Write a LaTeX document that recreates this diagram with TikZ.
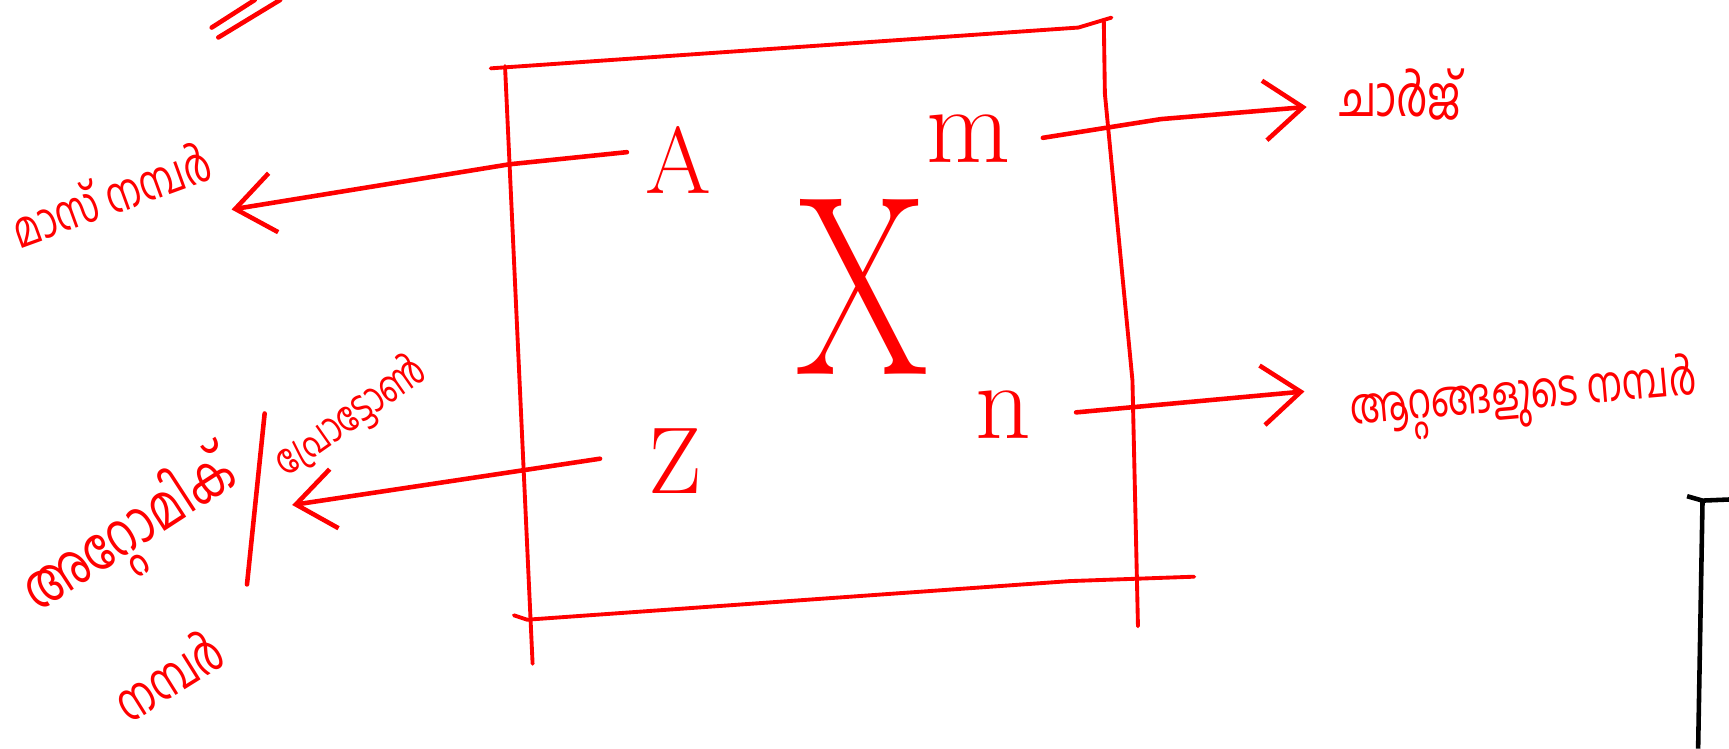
\documentclass[tikz,border=0pt]{standalone}
\usepackage{fontspec}
\usetikzlibrary{arrows.meta}
\newfontfamily\mlfont[Script=Malayalam, FakeStretch=0.75]{Hind Kochi}

\begin{document}
\begin{tikzpicture}[
    x=0.011027cm,
    y=-0.011027cm,
    frame/.style={
        draw=red,
        line width=1.1pt,
        line cap=round,
        line join=round
    },
    arrow/.style={
        red,
        line width=1.3pt,
        line cap=round,
        line join=round,
        -{Straight Barb[length=11pt,width=17pt,line width=1.3pt]}
    },
    letter/.style={
        text=red,
        inner sep=0pt,
        font=\fontsize{27}{30}\selectfont
    },
    small letter/.style={
        text=red,
        inner sep=0pt,
        font=\fontsize{31}{34}\selectfont
    },
    mltext/.style={
        text=red,
        inner sep=0pt,
        font=\mlfont\fontsize{15}{18}\selectfont
    }
]

\useasboundingbox (0,0) rectangle (1568,679);

% Box
\draw [frame] (445,62) -- (978,25) -- (1008,16);
\draw [frame] (458,60) -- (483,602);
\draw [frame] (1001,18) -- (1002,85) -- (1027,345) -- (1032,568);
\draw [frame] (466,558) -- (478,562) -- (970,527) -- (1083,523);

% Nodes
\node [letter] (A) at (615,145) {A};
\node [letter] (Z) at (612,418) {Z};
\node [small letter] (m) at (878,126) {m};
\node [small letter] (n) at (910,376) {n};
\node [text=red, inner sep=0pt, xscale=0.75, font=\fontsize{73}{75}\selectfont] (X) at (782,260) {X};

% Labels
\node [mltext, rotate=20, font=\mlfont\fontsize{14}{16}\selectfont] (mass) at (100,176) {മാസ് നമ്പർ};
\node [mltext, rotate=33, font=\mlfont\fontsize{17}{18}\selectfont] (atomic) at (120,486) {അറ്റോമിക്};
\node [mltext, rotate=35, font=\mlfont\fontsize{12}{14}\selectfont] (proton) at (318,378) {പ്രോട്ടോൺ};
\node [mltext, rotate=32] (number) at (152,612) {നമ്പർ};
\node [mltext, font=\mlfont\fontsize{16}{18}\selectfont] (charge) at (1270,86) {ചാർജ്};
\node [mltext, rotate=5, font=\mlfont\fontsize{14}{16}\selectfont] (atoms) at (1382,362) {ആറ്റങ്ങളുടെ നമ്പർ};

\draw [red, line width=1.3pt, line cap=round] (240,375) -- (224,530);

% Arrows
\coordinate (akink) at (462,149);
\coordinate (atip) at (210,190);
\coordinate (ztip) at (265,458);
\coordinate (mkink) at (1053,108);
\coordinate (mtip) at (1185,97);
\coordinate (ntip) at (1183,355);

\draw [arrow] ([shift={(-16,-7)}]A.west) -- (akink) -- (atip);
\draw [arrow] ([shift={(-43,-2)}]Z.west) -- (ztip);
\draw [arrow] ([shift={(29,-1)}]m.east) -- (mkink) -- (mtip);
\draw [arrow] ([shift={(40,-2)}]n.east) -- (ntip);

% Strokes at the edges
\draw [red, line width=1.3pt, line cap=round] (192,25) -- (231,0);
\draw [red, line width=1.3pt, line cap=round] (198,34) -- (254,0);
\draw [black, line width=1.3pt] (1530,450) -- (1544,454) -- (1568,453);
\draw [black, line width=1.3pt] (1544,454) -- (1540,679);

\end{tikzpicture}
\end{document}
